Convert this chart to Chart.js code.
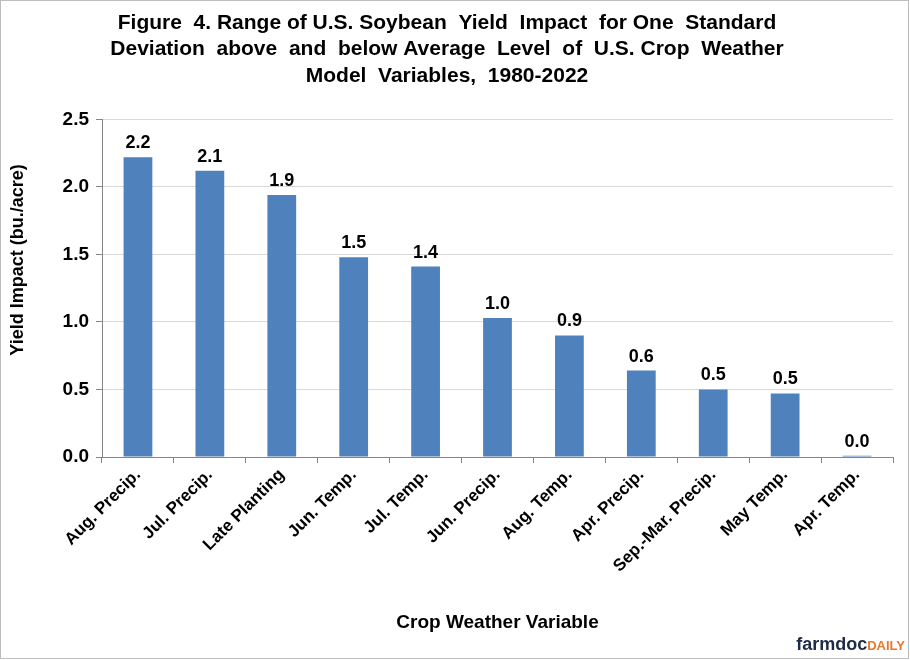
<!DOCTYPE html>
<html>
<head>
<meta charset="utf-8">
<script src="https://cdn.jsdelivr.net/npm/chart.js@4.4.0/dist/chart.umd.min.js"></script>
<style>
body{margin:0;background:#fff;}
#wrap{position:relative;width:909px;height:659px;border:1px solid #bdbdbd;box-sizing:border-box;}
#logo{position:absolute;right:3px;bottom:1px;font-family:"Liberation Sans",Arial,sans-serif;font-weight:bold;line-height:22px;}
#logo .f{color:#1f2a48;font-size:18px;}
#logo .d{color:#e8792b;font-size:13px;}
</style>
</head>
<body>
<div id="wrap">
<canvas id="grafico" width="907" height="657"></canvas>
<div id="logo"><span class="f">farmdoc</span><span class="d">DAILY</span></div>
</div>
<script>
const categorias = ["Aug. Precip.","Jul. Precip.","Late Planting","Jun. Temp.","Jul. Temp.","Jun. Precip.","Aug. Temp.","Apr. Precip.","Sep.-Mar. Precip.","May Temp.","Apr. Temp."];
const impacto = [2.22,2.12,1.94,1.48,1.41,1.03,0.90,0.64,0.50,0.47,0.01];
const ticksY = [0,0.5,1.0,1.5,2.0,2.5];

const fonte = "'Liberation Sans', Arial, sans-serif";

// rotulos de valor acima das barras + titulo do eixo y
const rotulos = {
  id:"rotulos",
  afterDatasetsDraw(chart){
    const ctx = chart.ctx;
    const meta = chart.getDatasetMeta(0);
    ctx.save();
    ctx.font = "bold 18px " + fonte;
    ctx.fillStyle = "#000";
    ctx.textAlign = "center";
    ctx.textBaseline = "bottom";
    meta.data.forEach((bar,i)=>{
      ctx.fillText(impacto[i].toFixed(1), bar.x, bar.y - 5);
    });
    ctx.translate(17, 259);
    ctx.rotate(-Math.PI/2);
    ctx.textBaseline = "middle";
    ctx.fillText("Yield Impact (bu./acre)", 0, 0);
    ctx.restore();
  }
};

new Chart(document.getElementById("grafico"),{
  type:"bar",
  data:{
    labels:categorias,
    datasets:[{
      data:impacto,
      backgroundColor:"#4f81bd",
      categoryPercentage:1,
      barPercentage:0.4
    }]
  },
  options:{
    responsive:false,
    animation:false,
    layout:{padding:{left:0,right:15,top:0,bottom:20}},
    plugins:{
      legend:{display:false},
      tooltip:{enabled:false},
      title:{
        display:true,
        text:["Figure  4. Range of U.S. Soybean  Yield  Impact  for One  Standard","Deviation  above  and  below Average  Level  of  U.S. Crop  Weather","Model  Variables,  1980-2022"],
        color:"#000",
        font:{family:fonte,size:21,weight:"bold",lineHeight:1.26},
        padding:{top:9,bottom:30}
      }
    },
    scales:{
      x:{
        afterFit(s){ s.height = 181; },
        grid:{offset:true,drawOnChartArea:false,drawTicks:true,tickLength:6,color:"#868686"},
        border:{color:"#868686"},
        ticks:{color:"#000",font:{family:fonte,size:17,weight:"bold"},minRotation:45,maxRotation:45,padding:2},
        title:{display:true,text:"Crop Weather Variable",color:"#000",font:{family:fonte,size:19,weight:"bold"},padding:{top:4,bottom:4}}
      },
      y:{
        min:0,max:2.5,
        afterFit(s){ s.width = 101; },
        afterBuildTicks(s){ s.ticks = ticksY.map(v=>({value:v})); },
        grid:{color:"#d9d9d9",tickColor:"#868686",tickLength:6},
        border:{color:"#868686"},
        ticks:{color:"#000",font:{family:fonte,size:19,weight:"bold"},padding:7,callback:v=>v.toFixed(1)}
      }
    }
  },
  plugins:[rotulos]
});
</script>
</body>
</html>
